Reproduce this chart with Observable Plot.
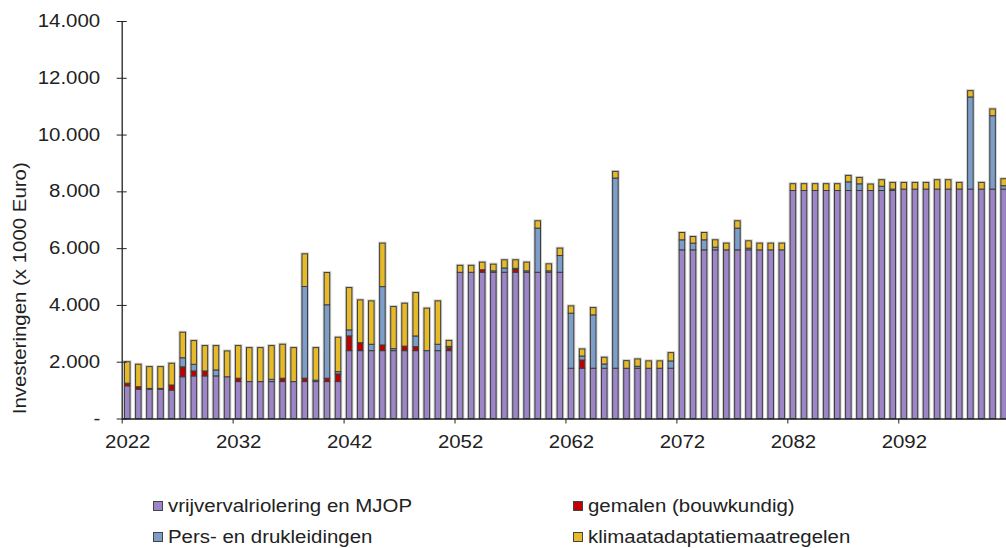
<!DOCTYPE html>
<html><head><meta charset="utf-8">
<script src="https://cdn.jsdelivr.net/npm/d3@7"></script>
<script src="https://cdn.jsdelivr.net/npm/@observablehq/plot@0.6"></script>
<style>
html,body{margin:0;padding:0;background:#fff;overflow:hidden;width:1006px;height:548px;}
#wrap{position:relative;width:1006px;height:548px;overflow:hidden;font-family:"Liberation Sans",Arial,sans-serif;}
#chart{position:absolute;left:0;top:0;width:1014px;}
#chart svg{max-width:none !important;}
.leg{position:absolute;font-size:17.5px;color:#222;display:flex;align-items:center;white-space:nowrap;height:20px;}
.sw{width:8px;height:8px;border:1px solid #444;margin-right:5px;flex:none;}
.lt{display:inline-block;transform:scaleX(1.167);transform-origin:left center;}
</style></head><body><div id="wrap"><div id="chart"></div></div>
<script>
const years = d3.range(2022, 2102);
const seriesNames = ["vrijvervalriolering en MJOP", "gemalen (bouwkundig)", "Pers- en drukleidingen", "klimaatadaptatiemaatregelen"];
const seriesColors = ["#9c86c7", "#c00000", "#7c9ec8", "#e7ba2a"];
const yTicks = [0, 2000, 4000, 6000, 8000, 10000, 12000, 14000];
const xTickYears = [2022, 2032, 2042, 2052, 2062, 2072, 2082, 2092];

const vrijverval = [
  1150,1030,1030,1030,1000, 1470,1500,1500,1500,1470,
  1300,1300,1300,1300,1300, 1300,1300,1300,1300,1300,
  2390,2390,2390,2390,2390, 2390,2390,2390,2390,2390,
  5150,5150,5150,5150,5150, 5150,5150,5150,5150,5150,
  1770,1770,1770,1770,1770, 1770,1770,1770,1770,1770,
  5940,5940,5940,5940,5940, 5940,5940,5940,5940,5940,
  8030,8030,8030,8030,8030, 8030,8030,8030,8030,8030,
  8080,8080,8080,8080,8080, 8080,8080,8080,8080,8080
];
const gemalen = [
  95,90,0,0,180, 350,175,175,0,0,
  120,0,0,0,120, 0,120,0,120,270,
  520,280,0,200,0, 160,140,0,0,100,
  0,0,90,0,0, 100,0,0,0,0,
  0,290,0,0,0, 0,0,0,0,0,
  0,0,0,0,0, 0,0,0,0,0,
  0,0,0,0,0, 0,0,0,0,0,
  0,0,0,0,0, 0,0,0,0,0
];
const persleidingen = [
  0,0,30,30,0, 320,235,0,210,0,
  0,0,0,80,0, 0,3230,50,2585,80,
  210,0,225,2055,70, 0,377,0,225,50,
  0,0,0,50,150, 40,50,1556,50,590,
  1940,140,1880,150,6700, 0,70,0,0,258,
  353,236,353,94,0, 765,60,0,0,0,
  0,0,0,0,0, 306,236,0,150,50,
  0,0,0,0,0, 0,3245,0,2585,120
];
const klimaat = [
  755,791,767,767,766, 899,834,893,858,910,
  1148,1197,1197,1188,1196, 1197,1150,1147,1136,1213,
  1492,1508,1528,1532,1483, 1511,1529,1496,1528,210,
  245,245,267,236,289, 300,307,258,248,261,
  257,250,257,238,232, 268,258,260,260,292,
  258,234,258,260,237, 259,259,237,237,237,
  240,240,240,240,240, 226,225,228,230,235,
  235,235,235,330,330, 235,222,235,238,245
];

const seriesValues = [vrijverval, gemalen, persleidingen, klimaat];
const data = years.flatMap((year, i) => seriesNames.map((s, j) => ({year, series: s, value: seriesValues[j][i]}))).filter(d => d.value > 0);
const totals = years.map((year, i) => ({year, total: seriesValues.reduce((a, arr) => a + arr[i], 0)}));

const step = 11.094;
const marginLeft = 121.7;
const W = 1014;
const marginRight = W - (marginLeft + years.length * step);
const fmt = d => d === 0 ? "-" : d3.format(",")(d).replace(/,/g, ".");
const FS = 17.5;

const chart = Plot.plot({
  width: W,
  height: 470,
  marginLeft,
  marginRight,
  marginTop: 21,
  marginBottom: 51.5,
  style: {fontFamily: "'Liberation Sans', Arial, sans-serif", fontSize: FS + "px", color: "#222", background: "#fff"},
  x: {type: "band", domain: years, paddingInner: 0.5, paddingOuter: 0.25, round: false, axis: null},
  y: {domain: [0, 14000], axis: null},
  color: {domain: seriesNames, range: seriesColors},
  marks: [
    Plot.barY(totals, {x: "year", y: "total", fill: "none", stroke: "#cfcfcf", strokeWidth: 3}),
    Plot.barY(data, {x: "year", y: "value", fill: "series", order: seriesNames, stroke: "#3d3d3d", strokeWidth: 1}),
    Plot.ruleY([0], {stroke: "#222", strokeWidth: 1.3}),
    Plot.tickX([2022], {x: d => d, dx: -step / 2, stroke: "#222", strokeWidth: 1.3}),
    Plot.axisY({ticks: yTicks, tickSize: 10, dx: 5, tickFormat: () => "", label: null, stroke: "#222"}),
    Plot.axisY({ticks: yTicks, tickSize: 0, tickPadding: 22, tickFormat: fmt, label: null, fontSize: FS, fill: "#222"}),
    Plot.axisX({ticks: xTickYears, tickSize: 5, dx: -step / 2, tickFormat: () => "", label: null, stroke: "#222"}),
    Plot.axisX({ticks: xTickYears, tickSize: 0, tickPadding: 17, tickFormat: d => String(d), label: null, fontSize: FS, fill: "#222"}),
    Plot.text(["Investeringen (x 1000 Euro)"], {frameAnchor: "left", textAnchor: "middle", rotate: -90, dx: -101.7, dy: 68, fontSize: FS, fill: "#222"})
  ]
});
document.getElementById("chart").appendChild(chart);

// widen glyphs horizontally like the reference rendering
chart.querySelectorAll("text").forEach(t => {
  const L = t.getComputedTextLength();
  if (L > 0) {
    t.setAttribute("textLength", (L * 1.167).toFixed(1));
    t.setAttribute("lengthAdjust", "spacingAndGlyphs");
  }
});

const wrap = document.getElementById("wrap");
const legendPos = [[153, 506], [573, 506], [153, 537], [573, 537]];
[0, 1, 2, 3].forEach((j, k) => {
  const el = document.createElement("div");
  el.className = "leg";
  el.style.left = legendPos[k][0] + "px";
  el.style.top = (legendPos[k][1] - 10) + "px";
  const sw = document.createElement("span");
  sw.className = "sw";
  sw.style.background = seriesColors[j];
  const tx = document.createElement("span");
  tx.className = "lt";
  tx.textContent = seriesNames[j];
  el.appendChild(sw); el.appendChild(tx);
  wrap.appendChild(el);
});
</script></body></html>
